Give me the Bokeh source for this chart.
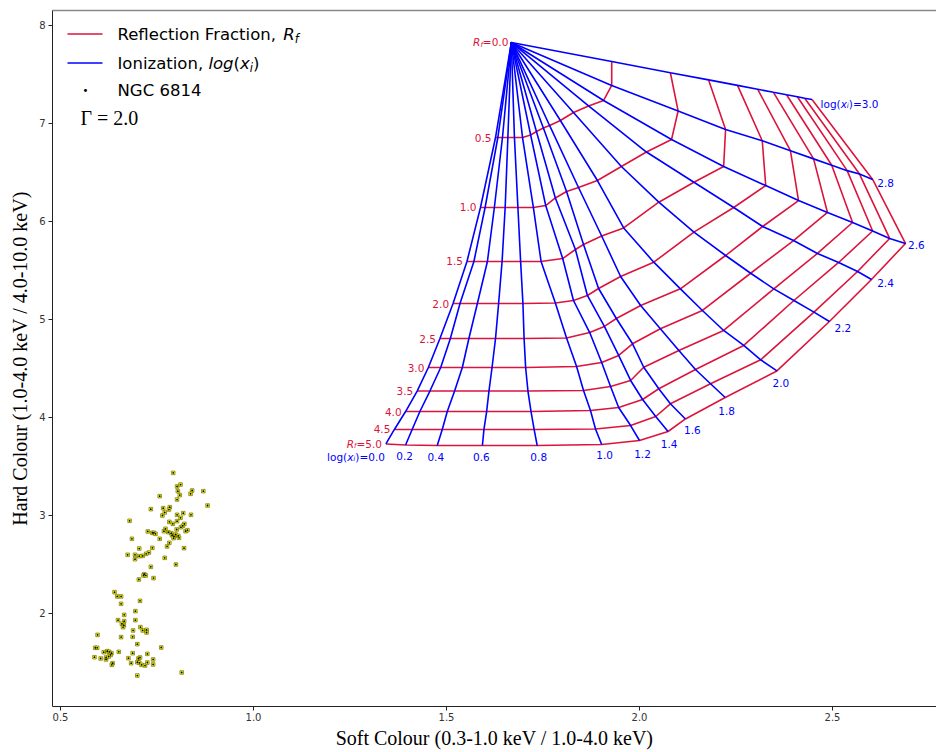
from bokeh.plotting import figure
from bokeh.models import Range1d, FixedTicker, LinearAxis, Label, Arrow
from bokeh.core.properties import value
from bokeh.embed import file_html
from bokeh.resources import INLINE

# ---------------- data ----------------
rf_labels = ["0.0", "0.5", "1.0", "1.5", "2.0", "2.5", "3.0", "3.5", "4.0", "4.5", "5.0"]
logxi_labels = ["0.0", "0.2", "0.4", "0.6", "0.8", "1.0", "1.2", "1.4",
                "1.6", "1.8", "2.0", "2.2", "2.4", "2.6", "2.8", "3.0"]

# model grid: soft / hard colour for each reflection fraction (index = log xi)
soft_rf00 = [1.668, 1.668, 1.668, 1.668, 1.668, 1.668, 1.668, 1.668, 1.668, 1.668, 1.668, 1.668, 1.668, 1.668, 1.668, 1.668]
hard_rf00 = [7.827, 7.827, 7.827, 7.827, 7.827, 7.827, 7.827, 7.827, 7.827, 7.827, 7.827, 7.827, 7.827, 7.827, 7.827, 7.827]
soft_rf05 = [1.627, 1.633, 1.645, 1.659, 1.676, 1.697, 1.718, 1.733, 1.751, 1.767, 1.795, 1.829, 1.868, 1.907, 1.928, 1.928]
hard_rf05 = [6.857, 6.857, 6.857, 6.857, 6.857, 6.857, 6.883, 6.918, 6.954, 6.980, 7.031, 7.112, 7.179, 7.235, 7.388, 7.633]
soft_rf10 = [1.588, 1.600, 1.624, 1.652, 1.685, 1.725, 1.757, 1.782, 1.811, 1.842, 1.891, 1.953, 2.018, 2.083, 2.100, 2.080]
hard_rf10 = [6.143, 6.143, 6.143, 6.143, 6.143, 6.143, 6.163, 6.240, 6.306, 6.347, 6.418, 6.561, 6.709, 6.837, 7.128, 7.518]
soft_rf15 = [1.553, 1.571, 1.606, 1.644, 1.692, 1.745, 1.801, 1.834, 1.855, 1.902, 1.959, 2.050, 2.141, 2.218, 2.223, 2.179]
hard_rf15 = [5.592, 5.592, 5.592, 5.592, 5.592, 5.592, 5.622, 5.714, 5.765, 5.852, 5.934, 6.197, 6.401, 6.561, 6.939, 7.445]
soft_rf20 = [1.517, 1.535, 1.580, 1.635, 1.698, 1.782, 1.829, 1.865, 1.894, 1.951, 2.037, 2.141, 2.244, 2.327, 2.318, 2.254]
hard_rf20 = [5.163, 5.163, 5.163, 5.163, 5.163, 5.168, 5.194, 5.245, 5.316, 5.439, 5.585, 5.891, 6.143, 6.367, 6.824, 7.389]
soft_rf25 = [1.483, 1.510, 1.558, 1.627, 1.701, 1.811, 1.871, 1.909, 1.940, 2.003, 2.106, 2.223, 2.319, 2.412, 2.391, 2.306]
hard_rf25 = [4.806, 4.806, 4.806, 4.806, 4.806, 4.811, 4.867, 4.929, 5.010, 5.143, 5.313, 5.653, 5.949, 6.214, 6.722, 7.350]
soft_rf30 = [1.453, 1.485, 1.541, 1.618, 1.705, 1.837, 1.902, 1.946, 1.982, 2.054, 2.163, 2.288, 2.399, 2.487, 2.451, 2.347]
hard_rf30 = [4.510, 4.510, 4.510, 4.510, 4.510, 4.520, 4.561, 4.633, 4.752, 4.905, 5.092, 5.472, 5.806, 6.092, 6.639, 7.318]
soft_rf35 = [1.424, 1.457, 1.521, 1.610, 1.711, 1.855, 1.925, 1.977, 2.011, 2.102, 2.218, 2.348, 2.461, 2.552, 2.498, 2.381]
hard_rf35 = [4.270, 4.270, 4.270, 4.270, 4.270, 4.276, 4.316, 4.378, 4.513, 4.684, 4.888, 5.313, 5.674, 5.990, 6.574, 7.293]
soft_rf40 = [1.394, 1.431, 1.502, 1.604, 1.719, 1.873, 1.946, 2.008, 2.050, 2.145, 2.270, 2.400, 2.516, 2.604, 2.538, 2.409]
hard_rf40 = [4.061, 4.061, 4.061, 4.061, 4.061, 4.071, 4.102, 4.184, 4.293, 4.490, 4.735, 5.194, 5.582, 5.903, 6.519, 7.273]
soft_rf45 = [1.365, 1.411, 1.489, 1.597, 1.727, 1.886, 1.977, 2.042, 2.080, 2.184, 2.314, 2.452, 2.565, 2.648, 2.570, 2.428]
hard_rf45 = [3.878, 3.878, 3.878, 3.878, 3.878, 3.883, 3.918, 4.010, 4.140, 4.344, 4.589, 5.075, 5.490, 5.827, 6.484, 7.258]
soft_rf50 = [1.343, 1.394, 1.476, 1.593, 1.735, 1.902, 2.000, 2.074, 2.119, 2.222, 2.356, 2.492, 2.601, 2.689, 2.604, 2.447]
hard_rf50 = [3.730, 3.719, 3.714, 3.714, 3.714, 3.725, 3.765, 3.857, 3.985, 4.204, 4.475, 4.980, 5.408, 5.776, 6.429, 7.245]

# NGC 6814 observations
ngc_soft = [0.792, 0.802, 0.811, 0.804, 0.809, 0.841, 0.837, 0.870, 0.757, 0.802, 0.881, 0.734, 0.766, 0.783,
            0.781, 0.802, 0.818, 0.838, 0.764, 0.770, 0.679, 0.811, 0.782, 0.791, 0.802, 0.821, 0.817, 0.812,
            0.772, 0.768, 0.801, 0.824, 0.829, 0.726, 0.738, 0.742, 0.746, 0.779, 0.787, 0.789, 0.794, 0.798,
            0.805, 0.807, 0.793, 0.757, 0.685, 0.782, 0.776, 0.738, 0.704, 0.820, 0.729, 0.722, 0.713, 0.693,
            0.674, 0.693, 0.704, 0.770, 0.799, 0.734, 0.717, 0.715, 0.721, 0.741, 0.703,
            0.640, 0.647, 0.657, 0.657, 0.706, 0.694, 0.665, 0.649, 0.665, 0.694, 0.659, 0.664, 0.662, 0.707,
            0.688, 0.713, 0.723, 0.723, 0.657, 0.687, 0.596, 0.699, 0.590, 0.595, 0.761, 0.621, 0.612, 0.626,
            0.632, 0.630, 0.651, 0.687, 0.725, 0.588, 0.604, 0.618, 0.618, 0.625, 0.676, 0.702, 0.706, 0.740,
            0.635, 0.633, 0.683, 0.699, 0.704, 0.710, 0.719, 0.725, 0.740, 0.699, 0.814]
ngc_hard = [3.435, 3.296, 3.316, 3.248, 3.208, 3.255, 3.221, 3.248, 3.197, 3.163, 3.102, 3.065, 3.075, 3.085,
            3.061, 3.007, 3.024, 3.007, 3.000, 3.031, 2.946, 2.976, 2.935, 2.915, 2.942, 2.915, 2.895, 2.881,
            2.864, 2.840, 2.857, 2.840, 2.850, 2.837, 2.823, 2.823, 2.813, 2.830, 2.820, 2.799, 2.786, 2.806,
            2.793, 2.772, 2.769, 2.762, 2.762, 2.721, 2.684, 2.670, 2.663, 2.667, 2.622, 2.609, 2.588, 2.599,
            2.599, 2.554, 2.585, 2.568, 2.500, 2.476, 2.401, 2.388, 2.388, 2.361, 2.347,
            2.218, 2.174, 2.174, 2.099, 2.129, 2.024, 1.986, 1.932, 1.922, 1.932, 1.895, 1.881, 1.861, 1.861,
            1.827, 1.827, 1.833, 1.806, 1.759, 1.762, 1.782, 1.687, 1.650, 1.650, 1.653, 1.616, 1.605, 1.609,
            1.595, 1.578, 1.609, 1.595, 1.588, 1.554, 1.541, 1.531, 1.551, 1.561, 1.544, 1.541, 1.551, 1.531,
            1.493, 1.476, 1.493, 1.503, 1.497, 1.476, 1.469, 1.500, 1.480, 1.367, 1.398]

x_ticks = [0.5, 1, 1.5, 2, 2.5]
x_tick_labels = ["0.5", "1.0", "1.5", "2.0", "2.5"]
y_ticks = [2, 3, 4, 5, 6, 7, 8]

soft_rows = [soft_rf00, soft_rf05, soft_rf10, soft_rf15, soft_rf20, soft_rf25,
             soft_rf30, soft_rf35, soft_rf40, soft_rf45, soft_rf50]
hard_rows = [hard_rf00, hard_rf05, hard_rf10, hard_rf15, hard_rf20, hard_rf25,
             hard_rf30, hard_rf35, hard_rf40, hard_rf45, hard_rf50]

# ---------------- style ----------------
RED = "#dc143c"
BLUE = "#0000ff"
SANS = "DejaVu Sans"
SERIF = "Liberation Serif"
FL, FB = 52, 706   # frame left / bottom in canvas pixels (for screen-unit annotations)

p = figure(width=936, height=752, output_backend="svg", toolbar_location=None,
           x_range=Range1d(0.47927, 2.76943), y_range=Range1d(1.05102, 8.15306),
           min_border_left=52, min_border_right=0, min_border_top=10, min_border_bottom=46)
p.outline_line_color = None
p.grid.visible = False
p.background_fill_color = "white"
p.border_fill_color = "white"

for ax in (p.xaxis[0], p.yaxis[0]):
    ax.axis_line_color = "#222222"
    ax.axis_line_width = 1
    ax.major_tick_line_color = "#222222"
    ax.major_tick_in = 0
    ax.major_tick_out = 4
    ax.minor_tick_line_color = None
    ax.major_label_text_font = SANS
    ax.major_label_text_font_size = "10px"
    ax.major_label_text_color = "#333333"
    ax.axis_label_text_font = SERIF
    ax.axis_label_text_font_size = "20px"
    ax.axis_label_text_font_style = "normal"
    ax.axis_label_text_color = "black"

p.xaxis[0].ticker = FixedTicker(ticks=x_ticks)
p.xaxis[0].major_label_overrides = {t: s for t, s in zip(x_ticks, x_tick_labels)}
p.xaxis[0].major_label_standoff = 2
p.xaxis[0].axis_label_standoff = 3
p.xaxis[0].axis_label = "Soft Colour (0.3-1.0 keV / 1.0-4.0 keV)"
p.yaxis[0].ticker = FixedTicker(ticks=y_ticks)
p.yaxis[0].major_label_standoff = 3
p.yaxis[0].axis_label_standoff = 5
p.yaxis[0].axis_label = "Hard Colour (1.0-4.0 keV / 4.0-10.0 keV)"

top = LinearAxis(ticker=FixedTicker(ticks=[]), axis_line_color="#888888", axis_line_width=1.5,
                 major_tick_line_color=None, minor_tick_line_color=None)
p.add_layout(top, "above")

# ---------------- grid lines ----------------
n_xi = len(logxi_labels)
p.multi_line(xs=soft_rows[1:], ys=hard_rows[1:], line_color=RED, line_width=1.6)
blue_xs = [[row[j] for row in soft_rows] for j in range(n_xi)]
blue_ys = [[row[j] for row in hard_rows] for j in range(n_xi)]
p.multi_line(xs=blue_xs, ys=blue_ys, line_color=BLUE, line_width=1.6)

# ---------------- data points ----------------
p.scatter(ngc_soft, ngc_hard, marker="square", size=3.6, fill_color="yellow",
          line_color="#555500", line_width=0.6)
p.scatter(ngc_soft, ngc_hard, marker="circle", size=1.8, fill_color="black",
          line_color=None)

# ---------------- grid labels ----------------
W = {'0': .636, '1': .636, '2': .636, '3': .636, '4': .636, '5': .636, '6': .636, '7': .636,
     '8': .636, '9': .636, '.': .318, '=': .838, '(': .390, ')': .390, 'l': .278, 'o': .612,
     'g': .635, 'R': .695, 'f': .352, 'x': .592, 'i': .278, ' ': .318}


def tw(s, size):
    return sum(W.get(c, .6) for c in s) * size


def compound(x, y, pieces, color, align, dx, dy):
    total = sum(tw(t, s) for t, _, s, _ in pieces)
    cur = dx - total if align == "right" else (dx - total / 2 if align == "center" else dx)
    for t, it, s, ddy in pieces:
        p.text(x=[x], y=[y], text=[t], x_offset=cur, y_offset=dy + ddy,
               text_font=value(SANS), text_font_size=f"{s}px",
               text_font_style="italic" if it else "normal", text_color=color,
               text_align="left", text_baseline="middle")
        cur += tw(t, s)


# red (reflection fraction) labels at log xi = 0 end
rf_x = [row[0] for row in soft_rows]
rf_y = [row[0] for row in hard_rows]
p.text(x=rf_x[1:-1], y=rf_y[1:-1], text=rf_labels[1:-1], x_offset=-4, y_offset=0,
       text_font=value(SANS), text_font_size="10.5px", text_color=RED,
       text_align="right", text_baseline="middle")
compound(rf_x[0], rf_y[0], [("R", True, 10.5, 0), ("f", True, 7, 2.5), ("=" + rf_labels[0], False, 10.5, 0)],
         RED, "right", -3, 0)
compound(rf_x[-1], rf_y[-1], [("R", True, 10.5, 0), ("f", True, 7, 2.5), ("=" + rf_labels[-1], False, 10.5, 0)],
         RED, "right", -4, 0)

# blue (ionization) labels at R_f = 5 end
bx = soft_rf50
by = hard_rf50
off_x = [0, -1, -1.5, -1, 1.5, 3, 3, 1, 7, 1.5, 4, 13.5, 14, 11, 13, 0]
off_y = [0, 10.5, 11, 11, 11, 11, 13, 12, 11, 13, 12, 6.5, 3, 1.5, 3.5, 0]
p.text(x=bx[1:-1], y=by[1:-1], text=logxi_labels[1:-1], x_offset=off_x[1:-1], y_offset=off_y[1:-1],
       text_font=value(SANS), text_font_size="10.5px", text_color=BLUE,
       text_align="center", text_baseline="middle")
compound(bx[0], by[0], [("log(", False, 10.5, 0), ("x", True, 10.5, 0), ("i", True, 7, 2.5),
                        (")=" + logxi_labels[0], False, 10.5, 0)], BLUE, "right", -1, 13)
compound(bx[-1], by[-1], [("log(", False, 10.5, 0), ("x", True, 10.5, 0), ("i", True, 7, 2.5),
                          (")=" + logxi_labels[-1], False, 10.5, 0)], BLUE, "left", 8.5, 4.5)

# ---------------- legend (drawn by hand in screen units) ----------------
def sx(cx):
    return cx - FL


def sy(cy):
    return FB - cy


def leg_text(cx, cy, t, italic=False, size=16.5, font=SANS):
    p.add_layout(Label(x=sx(cx), y=sy(cy), x_units="screen", y_units="screen", text=t,
                       text_font=font, text_font_size=f"{size}px",
                       text_font_style="italic" if italic else "normal",
                       text_color="black", text_align="left", text_baseline="middle"))


LW = {'R': .695, 'e': .615, 'f': .352, 'l': .278, 'c': .550, 't': .392, 'i': .278, 'o': .612,
      'n': .634, ' ': .318, 'F': .575, 'r': .411, 'a': .613, ',': .318, 'I': .295, 'z': .525,
      'g': .635, '(': .390, 'x': .592}


def lw(s, size):
    return sum(LW.get(c, .6) for c in s) * size


p.add_layout(Arrow(x_start=sx(67), y_start=sy(33.5), x_end=sx(102), y_end=sy(33.5),
                   start_units="screen", end_units="screen", end=None,
                   line_color=RED, line_width=1.6))
p.add_layout(Arrow(x_start=sx(67), y_start=sy(62.5), x_end=sx(102), y_end=sy(62.5),
                   start_units="screen", end_units="screen", end=None,
                   line_color=BLUE, line_width=1.6))

c = 117
leg_text(c, 34, "Reflection Fraction, ")
c += lw("Reflection Fraction, ", 16.5)
leg_text(c, 34, "R", italic=True)
c += lw("R", 16.5)
leg_text(c, 38, "f", italic=True, size=11.5)

c = 117
leg_text(c, 63, "Ionization, ")
c += lw("Ionization, ", 16.5)
leg_text(c, 63, "log", italic=True)
c += lw("log", 16.5)
leg_text(c, 63, "(")
c += lw("(", 16.5)
leg_text(c, 63, "x", italic=True)
c += lw("x", 16.5)
leg_text(c, 67, "i", italic=True, size=11.5)
c += lw("i", 11.5)
leg_text(c, 63, ")")

p.add_layout(Label(x=sx(85), y=sy(90), x_units="screen", y_units="screen", text="\u2022",
                   text_font=SANS, text_font_size="10px", text_color="black",
                   text_align="center", text_baseline="middle"))
leg_text(117, 90, "NGC 6814")
leg_text(80, 117, "\u0393 = 2.0", size=20, font=SERIF)

open("out.html", "w").write(file_html(p, INLINE))
